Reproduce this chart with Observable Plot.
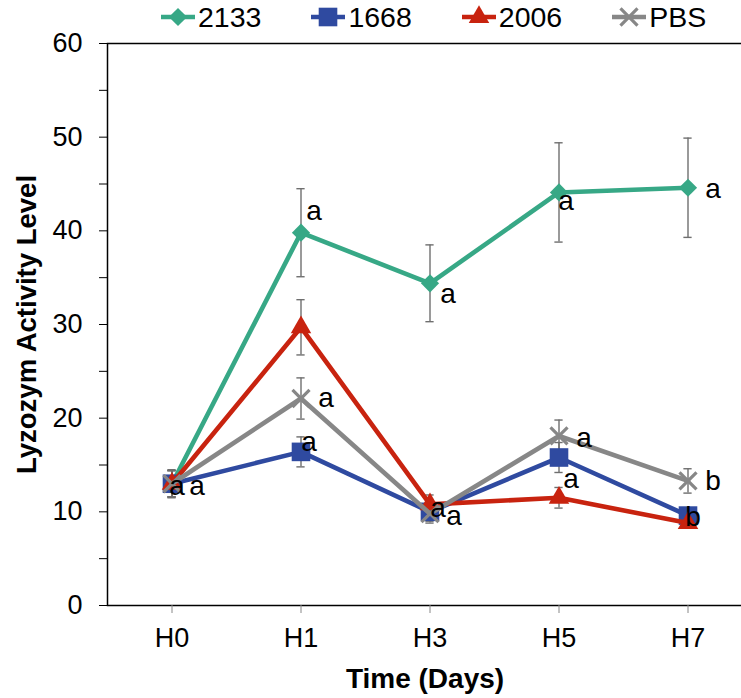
<!DOCTYPE html>
<html><head><meta charset="utf-8">
<script src="https://cdn.jsdelivr.net/npm/d3@7"></script>
<script src="https://cdn.jsdelivr.net/npm/@observablehq/plot@0.6"></script>
<style>
html,body{margin:0;padding:0;background:#fff;overflow:hidden;}
#wrap{position:relative;width:741px;height:698px;font-family:"Liberation Sans",Arial,sans-serif;}
#legend{position:absolute;top:0;left:161px;height:34px;display:flex;align-items:center;gap:50px;font-size:28.5px;color:#000;}
.item{display:flex;align-items:center;}
.item svg{margin-right:3px;display:block;}
#chart{position:absolute;top:0;left:0;}
</style></head><body>
<div id="wrap"><div id="chart"></div><div id="legend"></div></div>
<script>
const times = ["H0", "H1", "H3", "H5", "H7"];
const seriesNames = ["2133", "1668", "2006", "PBS"];
const v2133 = [13.0, 39.8, 34.4, 44.1, 44.6];
const v1668 = [13.0, 16.4, 10.0, 15.8, 9.6];
const v2006 = [13.0, 29.7, 10.8, 11.5, 8.8];
const vPBS  = [13.0, 22.1, 9.8, 18.1, 13.3];
const e2133 = [1.5, 4.7, 4.1, 5.3, 5.3];
const e1668 = [1.4, 1.6, 1.0, 1.6, 0.8];
const e2006 = [1.4, 2.95, 1.0, 1.1, 0.5];
const ePBS  = [1.4, 2.2, 1.0, 1.7, 1.3];
const l2133 = ["a", "a", "a", "a", "a"];
const l1668 = ["a", "a", "a", "a", "b"];
const l2006 = ["", "", "a", "", ""];
const lPBS  = ["", "a", "", "a", "b"];
const yTicks = [0, 10, 20, 30, 40, 50, 60];

const values = [v2133, v1668, v2006, vPBS];
const errs = [e2133, e1668, e2006, ePBS];
const letters = [l2133, l1668, l2006, lPBS];
const colors = ["#37a886", "#2f4aa0", "#c8230f", "#878787"];
const symbols = ["diamond2", "square", "triangle", "times"];
const radii = [8.2, 10.5, 7.6, 7.8];

const rows = [];
seriesNames.forEach((s, si) => times.forEach((t, i) => rows.push({
  series: s, si, i, time: t, value: values[si][i], err: errs[si][i], letter: letters[si][i]
})));

// label offsets (px) keyed series|time
const offsets = {
  "2133|H0": [25, 2], "1668|H0": [5, 2],
  "2133|H1": [13, -22], "2133|H3": [18, 11], "2133|H5": [7, 9], "2133|H7": [25, 1],
  "1668|H1": [8, -10], "1668|H3": [24, 4], "1668|H5": [12, 22], "1668|H7": [5, 1],
  "2006|H3": [8, 4],
  "PBS|H1": [25, 0], "PBS|H5": [25, 2], "PBS|H7": [25, 0]
};

const errColor = "#6f6f6f";
const marks = [];
marks.push(Plot.frame({stroke: "#000", strokeWidth: 1.5}));
marks.push(Plot.axisY({ticks: d3.range(0, 61, 5), tickSize: 8, tickPadding: 17, fontSize: 27,
  tickFormat: d => yTicks.includes(d) ? String(d) : "", label: null}));
marks.push(Plot.axisX({ticks: [0, 1, 2, 3, 4], tickFormat: i => times[i], tickSize: 8, tickPadding: 14,
  fontSize: 27, stroke: "#888", label: null}));
marks.push(Plot.ruleX(rows, {x: "i", y1: d => d.value - d.err, y2: d => d.value + d.err, stroke: errColor, strokeWidth: 1.4}));
marks.push(Plot.ruleY(rows, {y: d => d.value + d.err, x1: d => d.i - 0.032, x2: d => d.i + 0.032, stroke: errColor, strokeWidth: 1.4}));
marks.push(Plot.ruleY(rows, {y: d => d.value - d.err, x1: d => d.i - 0.032, x2: d => d.i + 0.032, stroke: errColor, strokeWidth: 1.4}));
seriesNames.forEach((s, si) => {
  const data = rows.filter(d => d.si === si);
  marks.push(Plot.line(data, {x: "i", y: "value", stroke: colors[si], strokeWidth: 4.6}));
  if (symbols[si] === "times") {
    marks.push(Plot.dot(data, {x: "i", y: "value", symbol: "times", r: radii[si], stroke: colors[si], strokeWidth: 3.2, fill: "none"}));
  } else {
    marks.push(Plot.dot(data, {x: "i", y: "value", symbol: symbols[si], r: radii[si], fill: colors[si], stroke: "none"}));
  }
});
rows.filter(d => d.letter).forEach(d => {
  const o = offsets[d.series + "|" + d.time] || [20, 0];
  marks.push(Plot.text([d], {x: "i", y: "value", text: "letter", dx: o[0], dy: o[1], fontSize: 28, fill: "#000"}));
});
marks.push(Plot.text(["Time (Days)"], {frameAnchor: "bottom", textAnchor: "middle", lineAnchor: "middle", dx: -5, dy: 74, fontSize: 28, fontWeight: "bold", fill: "#000"}));
marks.push(Plot.text(["Lyzozym Activity Level"], {frameAnchor: "left", textAnchor: "middle", lineAnchor: "middle", dx: -80, rotate: -90, fontSize: 27.5, fontWeight: "bold", fill: "#000"}));

const chart = Plot.plot({
  width: 741, height: 698,
  marginLeft: 107, marginRight: -11, marginTop: 43, marginBottom: 93,
  style: {fontFamily: "'Liberation Sans', Arial, sans-serif", fontSize: "27px", color: "#000", background: "#fff"},
  x: {type: "linear", domain: [-0.5, 4.5]},
  y: {domain: [0, 60]},
  marks
});
document.getElementById("chart").appendChild(chart);

// legend
const legend = d3.select("#legend");
seriesNames.forEach((s, si) => {
  const item = legend.append("div").attr("class", "item");
  const sv = item.append("svg").attr("width", 34).attr("height", 24);
  sv.append("line").attr("x1", 0).attr("x2", 34).attr("y1", 12).attr("y2", 12)
    .attr("stroke", colors[si]).attr("stroke-width", 4.6);
  const symMap = {diamond2: d3.symbolDiamond2, square: d3.symbolSquare, triangle: d3.symbolTriangle, times: d3.symbolTimes};
  const size = Math.PI * radii[si] * radii[si];
  const p = sv.append("path").attr("transform", "translate(17,12)")
    .attr("d", d3.symbol(symMap[symbols[si]], size)());
  if (symbols[si] === "times") p.attr("fill", "none").attr("stroke", colors[si]).attr("stroke-width", 3.2);
  else p.attr("fill", colors[si]);
  item.append("span").text(s);
});
</script></body></html>
